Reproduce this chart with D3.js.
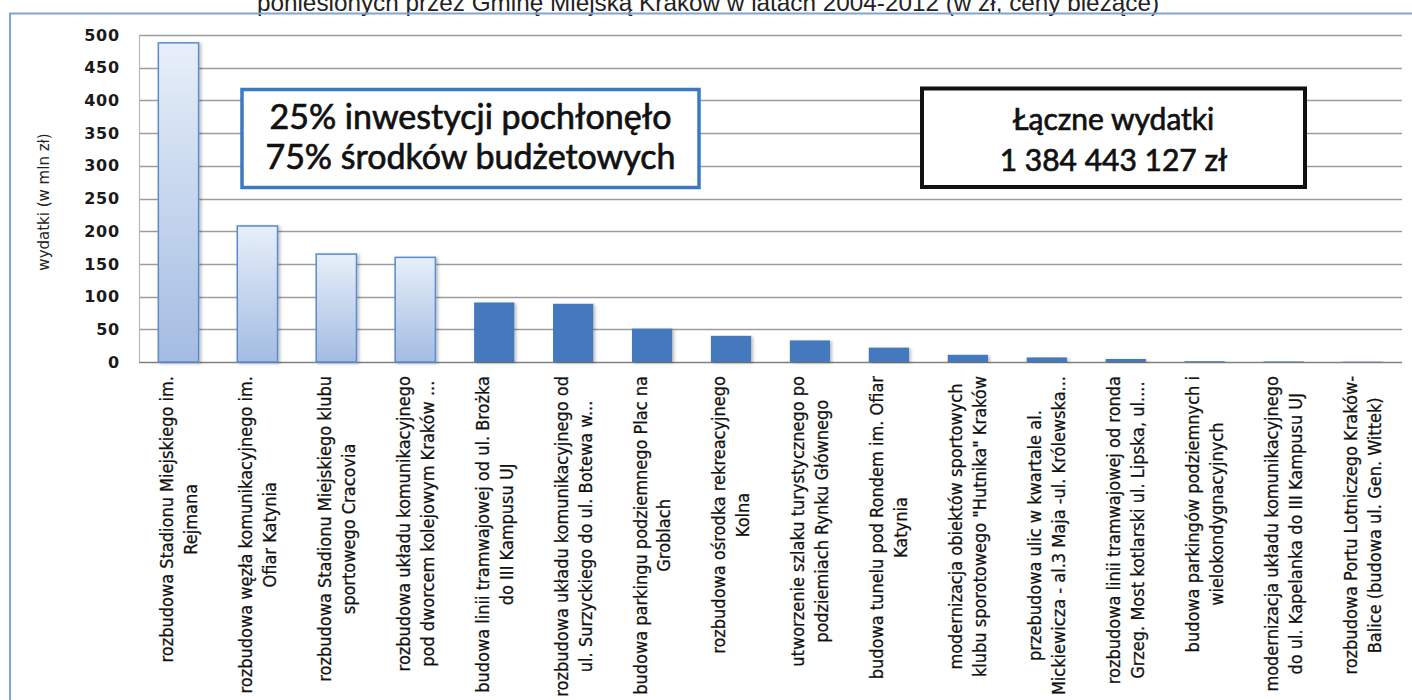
<!DOCTYPE html>
<html>
<head>
<meta charset="utf-8">
<script src="https://cdn.jsdelivr.net/npm/d3@7"></script>
<style>
  body { margin: 0; background: #fff; overflow: hidden; }
  svg { display: block; }
</style>
</head>
<body>
<div class="chart"></div>
<script>
// chart data (values in mln zł)
const labels = [
    ["rozbudowa Stadionu Miejskiego im.", "Rejmana"],
    ["rozbudowa węzła komunikacyjnego im.", "Ofiar Katynia"],
    ["rozbudowa Stadionu Miejskiego klubu", "sportowego Cracovia"],
    ["rozbudowa układu komunikacyjnego", "pod dworcem kolejowym Kraków ..."],
    ["budowa linii tramwajowej od ul. Brożka", "do III Kampusu UJ"],
    ["rozbudowa układu komunikacyjnego od", "ul. Surzyckiego do ul. Botewa w..."],
    ["budowa parkingu podziemnego Plac na", "Groblach"],
    ["rozbudowa ośrodka rekreacyjnego", "Kolna"],
    ["utworzenie szlaku turystycznego po", "podziemiach Rynku Głównego"],
    ["budowa tunelu pod Rondem im. Ofiar", "Katynia"],
    ["modernizacja obiektów sportowych", "klubu sporotowego \"Hutnika\" Kraków"],
    ["przebudowa ulic w kwartale al.", "Mickiewicza - al.3 Maja -ul. Królewska..."],
    ["rozbudowa linii tramwajowej od ronda", "Grzeg. Most kotlarski ul. Lipska, ul...."],
    ["budowa parkingów podziemnych i", "wielokondygnacyjnych"],
    ["modernizacja układu komunikacyjnego", "do ul. Kapelanka do III Kampusu UJ"],
    ["rozbudowa Portu Lotniczego Kraków-", "Balice (budowa ul. Gen. Wittek)"]
];
const values = [488, 208, 165, 160, 91, 89, 51, 40, 33, 22, 11, 7, 4.6, 1.2, 0.8, 0.5];
// first four investments are highlighted with the light gradient
const groups = ["top", "top", "top", "top", "rest", "rest", "rest", "rest",
    "rest", "rest", "rest", "rest", "rest", "rest", "rest", "rest"];
const yTicks = [0, 50, 100, 150, 200, 250, 300, 350, 400, 450, 500];

const titleText = "poniesionych przez Gminę Miejską Kraków w latach 2004-2012 (w zł, ceny bieżące)";
const yTitle = "wydatki (w mln zł)";
const noteLeft = ["25% inwestycji pochłonęło", "75% środków budżetowych"];
const noteRight = ["Łączne wydatki", "1 384 443 127 zł"];

var config = {};
config.svg = { width: 1412, height: 700 };
config.plot = { left: 139, right: 1402, top: 35, bottom: 362 };
config.labelTop = 376;

var translate = (x, y) => "translate(" + x + "," + y + ")";

var svg = d3.select(".chart")
    .append("svg")
    .attr("width", config.svg.width)
    .attr("height", config.svg.height);

var defs = svg.append("defs");
var grad = defs.append("linearGradient")
    .attr("id", "barGradient")
    .attr("x1", 0).attr("y1", 0).attr("x2", 0).attr("y2", 1);
grad.append("stop").attr("offset", "0%").attr("stop-color", "#e7eff9");
grad.append("stop").attr("offset", "100%").attr("stop-color", "#a3bce2");

var shadow = defs.append("filter").attr("id", "shadow")
    .attr("x", "-20%").attr("y", "-5%").attr("width", "150%").attr("height", "115%");
shadow.append("feDropShadow")
    .attr("dx", 2).attr("dy", 1).attr("stdDeviation", 1.5)
    .attr("flood-color", "#000").attr("flood-opacity", 0.25);

var xScale = d3.scaleBand()
    .domain(d3.range(values.length))
    .range([config.plot.left, config.plot.right])
    .paddingInner(0.49)
    .paddingOuter(0.245);

var yScale = d3.scaleLinear()
    .domain([0, 500])
    .range([config.plot.bottom, config.plot.top]);

// title, cut by the top edge like in the original
svg.append("text")
    .attr("x", 708)
    .attr("y", 11)
    .attr("text-anchor", "middle")
    .attr("font-family", "'Liberation Sans', Arial, sans-serif")
    .attr("font-size", "24.3px")
    .attr("fill", "#222")
    .text(titleText);

// outer frame (top and left only, rest is cropped)
svg.append("path")
    .attr("d", "M10,700 L10,13.5 L1412,13.5")
    .attr("fill", "none")
    .attr("stroke", "#7ea5d6")
    .attr("stroke-width", 2);

// gridlines
svg.append("g")
    .attr("class", "grid")
    .selectAll("line")
    .data(yTicks)
    .join("line")
    .attr("x1", config.plot.left)
    .attr("x2", config.plot.right)
    .attr("y1", d => Math.round(yScale(d)) + 0.5)
    .attr("y2", d => Math.round(yScale(d)) + 0.5)
    .attr("stroke", d => d === 0 ? "#808080" : "#9c9c9c")
    .attr("stroke-width", 1.4);

svg.append("line")
    .attr("x1", config.plot.left + 0.5).attr("x2", config.plot.left + 0.5)
    .attr("y1", config.plot.top).attr("y2", config.plot.bottom)
    .attr("stroke", "#b8b8b8")
    .attr("stroke-width", 1.2);

// y axis labels
var yAxis = d3.axisLeft(yScale)
    .tickValues(yTicks)
    .tickSize(0)
    .tickPadding(0);

var yg = svg.append("g")
    .attr("transform", translate(120, 0))
    .call(yAxis);
yg.select(".domain").remove();
yg.selectAll("text")
    .attr("font-family", "'DejaVu Sans', Verdana, sans-serif")
    .attr("font-weight", "bold")
    .attr("font-size", "16px")
    .attr("letter-spacing", "0.8px")
    .attr("fill", "#1a1a1a");

svg.append("text")
    .attr("transform", translate(48.5, 202) + " rotate(-90)")
    .attr("text-anchor", "middle")
    .attr("font-family", "'DejaVu Sans', Verdana, sans-serif")
    .attr("font-size", "15px")
    .attr("fill", "#222")
    .text(yTitle);

// bars
svg.append("g")
    .selectAll("rect")
    .data(values)
    .join("rect")
    .attr("x", (d, i) => xScale(i))
    .attr("y", d => yScale(d))
    .attr("width", xScale.bandwidth())
    .attr("height", d => yScale(0) - yScale(d))
    .attr("fill", (d, i) => groups[i] === "top" ? "url(#barGradient)" : "#4479bd")
    .attr("stroke", (d, i) => groups[i] === "top" ? "#5a8ad0" : "none")
    .attr("stroke-width", 1.5)
    .attr("filter", "url(#shadow)");

// rotated category labels, each block end-aligned at the axis, lines centred
var labelGroups = svg.append("g")
    .selectAll("g")
    .data(labels)
    .join("g")
    .attr("transform", (d, i) =>
        translate(xScale(i) + xScale.bandwidth() / 2, config.labelTop) + " rotate(-90) scale(1,1.1)");

labelGroups.each(function (lines) {
    var g = d3.select(this);
    var texts = g.selectAll("text")
        .data(lines)
        .join("text")
        .attr("y", (d, j) => (j - (lines.length - 1) / 2) * 21.8)
        .attr("dy", "0.36em")
        .attr("text-anchor", "middle")
        .attr("font-family", "'DejaVu Sans', Verdana, sans-serif")
        .attr("font-size", "16.2px")
        .attr("fill", "#111")
        .attr("stroke", "#111")
        .attr("stroke-width", 0.25)
        .text(d => d);
    var maxLen = d3.max(texts.nodes(), n => n.getComputedTextLength());
    texts.attr("x", -maxLen / 2);
});

// annotation boxes
var drawNote = function (x0, x1, y0, y1, stroke, width, lines, size, baselines) {
    var g = svg.append("g");
    g.append("rect")
        .attr("x", x0).attr("y", y0)
        .attr("width", x1 - x0).attr("height", y1 - y0)
        .attr("fill", "#fff")
        .attr("stroke", stroke)
        .attr("stroke-width", width);
    g.selectAll("text")
        .data(lines)
        .join("text")
        .attr("x", (x0 + x1) / 2)
        .attr("y", (d, i) => baselines[i])
        .attr("text-anchor", "middle")
        .attr("font-family", "Lato, 'Open Sans', sans-serif")
        .attr("font-weight", 400)
        .attr("font-size", size)
        .attr("fill", "#111")
        .attr("stroke", "#111")
        .attr("stroke-width", 0.7)
        .text(d => d);
};

drawNote(242, 699, 89.5, 187.5, "#3d78c5", 3.5, noteLeft, "34px", [129, 169]);
drawNote(922, 1305, 88.5, 187, "#111", 4, noteRight, "30px", [130, 171]);
</script>
</body>
</html>
